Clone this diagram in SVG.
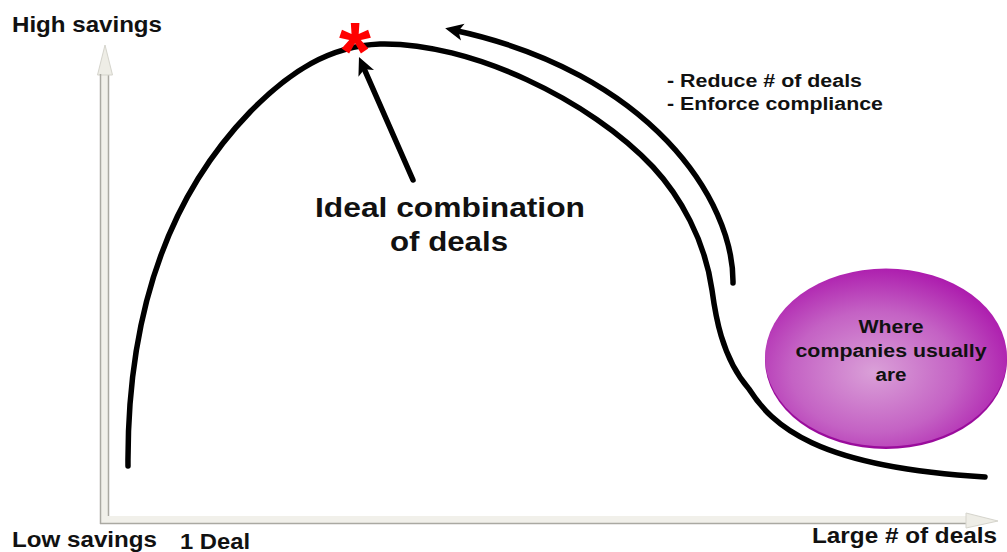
<svg xmlns="http://www.w3.org/2000/svg" width="1007" height="552" viewBox="0 0 1007 552">
<style>
.t{font-family:"Liberation Sans",Arial,sans-serif;font-weight:bold;fill:#111;}
.curve{fill:none;stroke:#000;stroke-width:5.5;stroke-linecap:round;}
.axis{fill:#f1f0ea;stroke:none;}
.axisedge{stroke:#aaa9a2;stroke-width:1.5;fill:none;}
</style>
<defs>
<marker id="ah" viewBox="-12 -10 22 20" markerWidth="22" markerHeight="20" refX="0" refY="0" orient="auto" markerUnits="userSpaceOnUse">
<path d="M8,0 L-10,-8.5 L-5.5,0 L-10,8.5 Z" fill="#000"/>
</marker>
<radialGradient id="pg" cx="0.45" cy="0.58" r="0.62">
<stop offset="0" stop-color="#daa0d8"/>
<stop offset="0.55" stop-color="#c462c4"/>
<stop offset="1" stop-color="#aa14ab"/>
</radialGradient>
</defs>

<g id="axes">
<rect class="axis" x="100" y="74" width="9" height="449"/>
<line class="axisedge" x1="108.5" y1="74" x2="108.5" y2="523"/>
<path d="M105,45 L112.5,75 L97.5,75 Z" fill="#eeede6" stroke="#d5d4cc" stroke-width="1"/>
<rect class="axis" x="100" y="516" width="866" height="8"/>
<line class="axisedge" x1="100" y1="523.5" x2="966" y2="523.5"/>
<line class="axisedge" x1="100.5" y1="74" x2="100.5" y2="524" stroke="#d0cfc8"/>
<path d="M998,521 L966,513 L966,528 Z" fill="#eeede6" stroke="#d5d4cc" stroke-width="1"/>
</g>

<g id="ellipse-node">
<ellipse cx="886" cy="360" rx="121" ry="89" fill="#9a0c9c"/>
<ellipse cx="886" cy="357.5" rx="121" ry="89" fill="url(#pg)"/>
<text class="t" x="891" y="333" font-size="18" text-anchor="middle" textLength="65" lengthAdjust="spacingAndGlyphs">Where</text>
<text class="t" x="891" y="357" font-size="18" text-anchor="middle" textLength="191" lengthAdjust="spacingAndGlyphs">companies usually</text>
<text class="t" x="891" y="381" font-size="18" text-anchor="middle" textLength="31" lengthAdjust="spacingAndGlyphs">are</text>
</g>

<g id="connectors">
<path id="main-curve" class="curve" d="M128,466 C127,330 160,205 250,112 C290,71 330,46 380,44 C470,42 590,100 653,167 C680,196 705,240 712,290 C715,312 721,357 749,389 C772,425 815,467 985,477"/>
<path id="reduce-arrow" class="curve" d="M733,283 C734,200 650,72 453,30" marker-end="url(#ah)"/>
<path id="ideal-arrow" class="curve" d="M413,180 L362.2,64.3" stroke-linecap="butt" marker-end="url(#ah)"/>
</g>

<g id="star">
<text x="355" y="79" font-family="Liberation Sans, Arial, sans-serif" font-weight="bold" font-size="82" fill="#ff0000" text-anchor="middle">*</text>
</g>

<g id="labels">
<text class="t" x="12" y="32" font-size="22" textLength="150" lengthAdjust="spacingAndGlyphs">High savings</text>
<text class="t" x="12" y="547" font-size="22" textLength="145" lengthAdjust="spacingAndGlyphs">Low savings</text>
<text class="t" x="180" y="549" font-size="22" textLength="70" lengthAdjust="spacingAndGlyphs">1 Deal</text>
<text class="t" x="812" y="543" font-size="22" textLength="185" lengthAdjust="spacingAndGlyphs">Large # of deals</text>
<text class="t" x="667" y="87" font-size="18" textLength="195" lengthAdjust="spacingAndGlyphs">- Reduce # of deals</text>
<text class="t" x="667" y="110" font-size="18" textLength="216" lengthAdjust="spacingAndGlyphs">- Enforce compliance</text>
<text class="t" x="450" y="217" font-size="27" text-anchor="middle" textLength="270" lengthAdjust="spacingAndGlyphs">Ideal combination</text>
<text class="t" x="449" y="251" font-size="27" text-anchor="middle" textLength="118" lengthAdjust="spacingAndGlyphs">of deals</text>
</g>
</svg>
